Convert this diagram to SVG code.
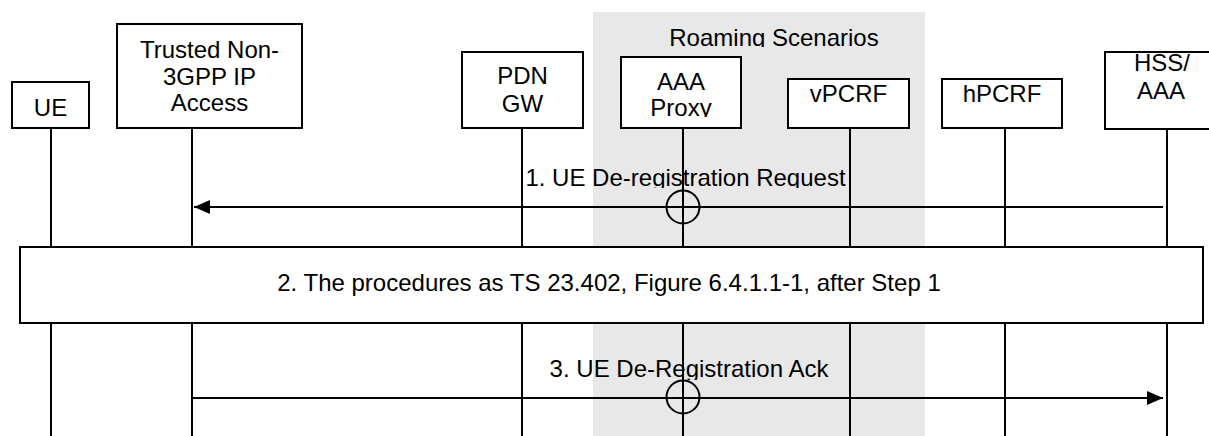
<svg xmlns="http://www.w3.org/2000/svg" width="1209" height="436" viewBox="0 0 1209 436">
  <defs>
    <style>
      .box { fill: #ffffff; stroke: #000000; stroke-width: 2; }
      .life { stroke: #000000; stroke-width: 2; fill: none; }
      .msg { stroke: #000000; stroke-width: 2; fill: none; }
      .txt { font-family: "Liberation Sans", Arial, sans-serif; font-size: 24px; fill: #000000; text-anchor: middle; }
      .circ { fill: none; stroke: #000000; stroke-width: 2; }
    </style>
    <marker id="arrow" markerWidth="16" markerHeight="14" refX="16" refY="7" orient="auto" markerUnits="userSpaceOnUse">
      <path d="M0,0 L16,7 L0,14 Z" fill="#000000"/>
    </marker>
    <clipPath id="clipRoam"><rect x="593" y="0" width="332" height="47"/></clipPath>
    <clipPath id="clipProxy"><rect x="621" y="57" width="120" height="60"/></clipPath>
    <clipPath id="clipMsg1"><rect x="400" y="150" width="600" height="38"/></clipPath>
    <clipPath id="clipMsg3"><rect x="400" y="340" width="600" height="40"/></clipPath>
  </defs>

  <rect x="0" y="0" width="1209" height="436" fill="#ffffff"/>

  <g id="roaming-area">
    <rect x="593" y="12" width="332" height="424" fill="#e8e8e8"/>
    <text class="txt" x="774" y="46" clip-path="url(#clipRoam)">Roaming Scenarios</text>
  </g>

  <g id="connectors">
    <line class="life" x1="51" y1="128" x2="51" y2="436"/>
    <line class="life" x1="192" y1="128" x2="192" y2="436"/>
    <line class="life" x1="522" y1="128" x2="522" y2="436"/>
    <line class="life" x1="683" y1="128" x2="683" y2="436"/>
    <line class="life" x1="850" y1="128" x2="850" y2="436"/>
    <line class="life" x1="1005" y1="128" x2="1005" y2="436"/>
    <line class="life" x1="1167" y1="128" x2="1167" y2="436"/>
  </g>

  <g id="node-ue">
    <rect class="box" x="12" y="82" width="77" height="46"/>
    <text class="txt" x="50.5" y="116">UE</text>
  </g>
  <g id="node-trusted">
    <rect class="box" x="117" y="24" width="185" height="104"/>
    <text class="txt" x="209.5" y="58">Trusted Non-</text>
    <text class="txt" x="209.5" y="85">3GPP IP</text>
    <text class="txt" x="209.5" y="111">Access</text>
  </g>
  <g id="node-pdngw">
    <rect class="box" x="462" y="52" width="121" height="76"/>
    <text class="txt" x="522.5" y="84">PDN</text>
    <text class="txt" x="522.5" y="112">GW</text>
  </g>
  <g id="node-aaaproxy">
    <rect class="box" x="621" y="57" width="120" height="71"/>
    <text class="txt" x="681" y="90">AAA</text>
    <text class="txt" x="681" y="116" clip-path="url(#clipProxy)">Proxy</text>
  </g>
  <g id="node-vpcrf">
    <rect class="box" x="788" y="79" width="121" height="49"/>
    <text class="txt" x="848.5" y="102">vPCRF</text>
  </g>
  <g id="node-hpcrf">
    <rect class="box" x="942" y="79" width="120" height="49"/>
    <text class="txt" x="1002" y="102">hPCRF</text>
  </g>
  <g id="node-hss">
    <rect class="box" x="1105" y="52" width="118" height="77"/>
    <text class="txt" x="1162" y="71">HSS/</text>
    <text class="txt" x="1161" y="99">AAA</text>
  </g>

  <g id="step2">
    <rect class="box" x="20" y="247" width="1183" height="76"/>
    <text class="txt" x="609" y="291">2. The procedures as TS 23.402, Figure 6.4.1.1-1, after Step 1</text>
  </g>

  <g id="messages">
    <line class="msg" x1="1163" y1="207" x2="194" y2="207" marker-end="url(#arrow)"/>
    <circle class="circ" cx="683" cy="207" r="16.5"/>
    <text class="txt" x="685.5" y="186" clip-path="url(#clipMsg1)">1. UE De-registration Request</text>
    <line class="msg" x1="192" y1="398" x2="1163" y2="398" marker-end="url(#arrow)"/>
    <circle class="circ" cx="683" cy="397" r="16.5"/>
    <text class="txt" x="689" y="377" clip-path="url(#clipMsg3)">3. UE De-Registration Ack</text>
  </g>
</svg>
